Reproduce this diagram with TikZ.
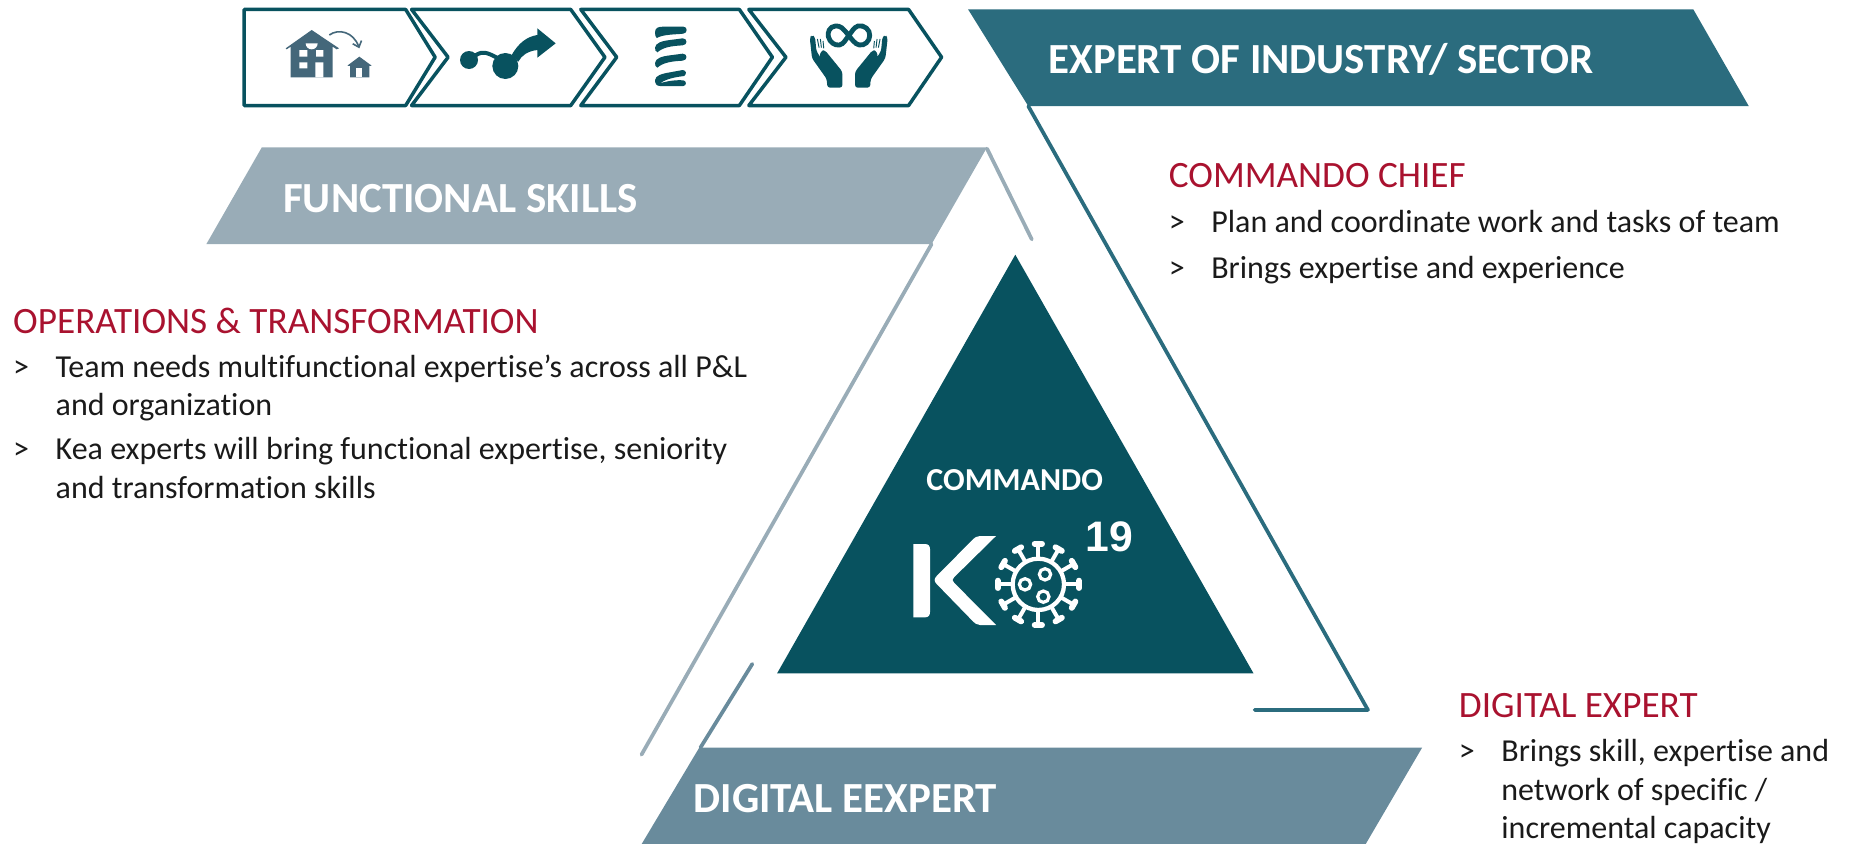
\documentclass[tikz,border=0pt]{standalone}
\usepackage{fontspec}
\usetikzlibrary{arrows.meta}
\setmainfont{Carlito}[Ligatures=NoCommon]
\newfontfamily\arialf{Liberation Sans}
\definecolor{deep}{HTML}{08525F}
\definecolor{teal}{HTML}{2B6C7E}
\definecolor{pale}{HTML}{99ACB7}
\definecolor{mid}{HTML}{698B9C}
\definecolor{slate}{HTML}{44677A}
\definecolor{crim}{HTML}{A9122F}
\definecolor{ink}{HTML}{1A1A1A}
\tikzset{
  chev/.style={draw=deep,line width=2.6pt,fill=white,line join=round},
  rib/.style={line width=2.8pt,line cap=round,line join=round},
  banner/.style={anchor=west,text=white,font=\fontsize{32.2}{38}\selectfont\bfseries,inner sep=0pt},
  head/.style={anchor=west,text=crim,font=\fontsize{27.9}{33}\selectfont,inner sep=0pt},
  body/.style={anchor=north west,text=ink,font=\fontsize{24}{28.8}\selectfont,inner sep=0pt,align=left},
  gt/.style={anchor=north west,text=ink,font=\fontsize{24}{28.8}\selectfont,inner sep=0pt},
  zoomA/.style={shift={(228.97,12.72)},x=0.25pt,y=-0.25pt},
  zoomB/.style={shift={(534.3,12.72)},x=0.25pt,y=-0.25pt},
  zoomC/.style={shift={(746.27,373.13)},x=0.25pt,y=-0.25pt},
}
\begin{document}
\begin{tikzpicture}[x=0.8844pt,y=-0.8844pt]
\useasboundingbox (0,0) rectangle (1568,715.7);
% chevrons
\draw[chev] (207,8)--(344,8)--(369,48.5)--(344,89.5)--(207,89.5)--cycle;
\draw[chev] (349,8)--(484,8)--(513,48.5)--(484,89.5)--(349,89.5)--(380,48.5)--cycle;
\draw[chev] (492.5,8)--(627,8)--(655,48.5)--(627,89.5)--(492.5,89.5)--(523,48.5)--cycle;
\draw[chev] (635,8)--(770.5,8)--(798.5,48.5)--(770.5,89.5)--(635,89.5)--(666.5,48.5)--cycle;
% house + molecule icons
\begin{scope}[zoomA]
\fill[slate] (125,45)--(207,100)--(200,103)--(188,95)--(188,187)--(62,187)--(62,95)--(50,103)--(47,100)--cycle;
\fill[white] (88,105) rectangle (112,125) (138,105) rectangle (160,125) (88,142) rectangle (112,160) (136,142) rectangle (160,187);
\fill[white] (107,85) arc (180:0:18) --cycle;
\fill[slate] (268,125)--(305,152)--(298,153)--(298,187)--(240,187)--(240,153)--(232,152)--cycle;
\fill[white] (258,158) rectangle (277,187);
\draw[slate,line width=1.2pt,-{Straight Barb[length=4pt,width=7pt]}] (178,60) .. controls (205,40) and (250,50) .. (268,100);
\fill[deep] (597,135) circle (27) (706,153) circle (39);
\draw[deep,line width=3pt] (615,122) .. controls (640,105) and (655,115) .. (685,130);
\fill[deep] (725,120) .. controls (745,85) and (770,65) .. (802,60) -- (802,40) -- (857,85) -- (802,128) -- (802,105) .. controls (775,108) and (755,120) .. (745,140) --cycle;
\end{scope}
% spring + hands icons
\begin{scope}[zoomB]
\fill[deep] (75,52) .. controls (75,38) and (85,35) .. (100,35) -- (160,35) .. controls (173,35) and (173,55) .. (160,56) .. controls (130,59) and (100,58) .. (80,69) .. controls (76,66) and (75,60) .. (75,52) --cycle;
\foreach \y in {76,122}{
\fill[deep] (75,\y+22) .. controls (76,\y+8) and (95,\y+2) .. (120,\y-1) -- (158,\y-6) .. controls (173,\y-6) and (173,\y+14) .. (158,\y+15) .. controls (125,\y+17) and (100,\y+20) .. (82,\y+36) .. controls (76,\y+34) and (75,\y+28) .. (75,\y+22) --cycle;
}
\fill[deep] (75,195) .. controls (76,182) and (95,176) .. (120,172) -- (158,165) .. controls (170,166) and (170,178) .. (162,183) .. controls (140,186) and (110,190) .. (90,205) .. controls (120,195) and (150,195) .. (160,196) .. controls (170,198) and (170,212) .. (160,213) -- (90,213) .. controls (78,213) and (75,205) .. (75,195) --cycle;
\draw[deep,line width=3.6pt] (656,62) .. controls (640,40) and (630,31) .. (616,33) .. controls (598,35) and (592,52) .. (595,65) .. controls (599,82) and (614,92) .. (628,90) .. controls (640,88) and (648,72) .. (656,62) .. controls (664,52) and (672,36) .. (684,33) .. controls (704,29) and (720,45) .. (719,62) .. controls (718,80) and (704,92) .. (688,90) .. controls (675,88) and (665,72) .. (656,62) --cycle;
\foreach \m in {0,1}{
\begin{scope}[shift={(\m*656,0)},xscale={1-2*\m},shift={(-\m*656,0)}]
\fill[deep,rounded corners=2pt] (539,68)--(546,60)--(555,66)--(559,108)--(592,160)--(592,165)--(568,125)--(574,106)--(585,106)--(637,170)--(637,218)--(592,218)--(590,192)--(546,130)--cycle;
\draw[deep,line width=0.7pt] (562,72)--(567,98) (571,72)--(574,98) (579,78)--(581,100);
\end{scope}}
\end{scope}
% banners
\fill[teal] (821,8)--(1436,8)--(1483,90)--(872,90)--cycle;
\fill[pale] (222,125)--(837,125)--(790,207)--(175,207)--cycle;
\fill[mid] (593,634)--(1206,634)--(1158,716)--(544,716)--cycle;
% rib lines
\coordinate (a1) at (872,90); \coordinate (a2) at (1160,602); \coordinate (a3) at (1064,602);
\draw[rib,teal] (a1)--(a2)--(a3);
\coordinate (b1) at (837,126); \coordinate (b2) at (875,203);
\draw[rib,pale] (b1)--(b2);
\coordinate (c1) at (790,207); \coordinate (c2) at (544,640);
\draw[rib,pale] (c1)--(c2);
\coordinate (d1) at (594,634); \coordinate (d2) at (638,563);
\draw[rib,mid] (d1)--(d2);
% triangle
\fill[deep] (861,216)--(1063,571)--(659,571)--cycle;
% K and virus
\begin{scope}[zoomC]
\fill[white] (100,312)--(135,312) .. controls (145,312) and (150,318) .. (150,328) -- (150,516) .. controls (150,526) and (145,532) .. (135,532) -- (100,532) --cycle;
\fill[white] (348,288)--(300,288) .. controls (290,288) and (285,292) .. (275,302) -- (170,408) .. controls (162,416) and (162,424) .. (170,432) -- (275,540) .. controls (285,550) and (290,555) .. (300,555) -- (348,555) -- (222,428) .. controls (216,422) and (216,418) .. (222,412) --cycle;
\begin{scope}[shift={(475,433)}]
\draw[white,line width=3.2pt] (0,0) circle (77);
\foreach \a in {0,30,...,330}{
  \draw[white,line width=3pt] (\a:77)--(\a:122);
  \draw[white,line width=4.4pt,line cap=round] ([shift={(\a:122)}]\a+90:11)--([shift={(\a:122)}]\a-90:11);
}
\draw[white,line width=2.4pt] (-40,0) circle (17) (20,-30) circle (17) (15,37) circle (17);
\end{scope}
\end{scope}
\node[text=white,font=\arialf\fontsize{32}{36}\selectfont\bfseries] (ninet) at (941,455) {19};
\node[text=white,font=\fontsize{24}{28}\selectfont\bfseries] (cmd) at (860.5,407) {COMMANDO};
% texts
\node[banner] (bt1) at (889,50) {EXPERT OF INDUSTRY/ SECTOR};
\node[banner] (bt2) at (240,168) {FUNCTIONAL SKILLS};
\node[banner] (bt3) at (588,677) {DIGITAL EEXPERT};
\node[head] (h1) at (991,149) {COMMANDO CHIEF};
\node[gt] (g1) at (991,174) {\strut>};
\node[body] (t1) at (1027,174) {\strut Plan and coordinate work and tasks of team};
\node[gt] (g2) at (991,213) {\strut>};
\node[body] (t2) at (1027,213) {\strut Brings expertise and experience};
\node[head] (h2) at (11,272) {OPERATIONS \& TRANSFORMATION};
\node[gt] (g3) at (11,297) {\strut>};
\node[body] (t3) at (47,297) {\strut Team needs multifunctional expertise’s across all P\&L\\and organization};
\node[gt] (g4) at (11,367) {\strut>};
\node[body] (t4) at (47,367) {\strut Kea experts will bring functional expertise, seniority\\and transformation skills};
\node[head] (h3) at (1237,598) {DIGITAL EXPERT};
\node[gt] (g5) at (1237,623) {\strut>};
\node[body] (t5) at (1273,623) {\strut Brings skill, expertise and\\network of specific /\\incremental capacity};
\end{tikzpicture}
\end{document}
